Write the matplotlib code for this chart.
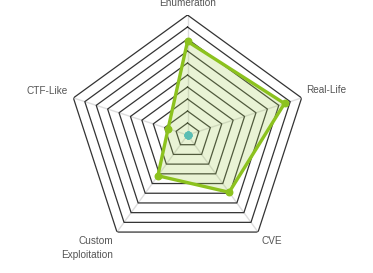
import numpy as np
import matplotlib
matplotlib.use("Agg")
import matplotlib.pyplot as plt

categories = ["Enumeration", "Real-Life", "CVE", "Custom\nExploitation", "CTF-Like"]
scores = [7.8, 8.5, 5.9, 4.2, 1.7]
baseline = [0, 0, 0, 0, 0]
levels = list(range(1, 11))

plt.rcParams['font.family'] = ['Liberation Sans', 'DejaVu Sans']

n = len(categories)
angles = np.linspace(0, 2 * np.pi, n, endpoint=False)
closed = np.append(angles, angles[0])

fig = plt.figure(figsize=(3.73, 2.73), dpi=100)
ax = fig.add_axes([0.181, 0.066, 0.6434, 0.879], projection='polar')
ax.set_theta_offset(np.pi / 2)
ax.set_theta_direction(-1)
ax.set_ylim(0, 10)
ax.axis('off')

# spokes
for a in angles:
    ax.plot([a, a], [0, levels[-1]], color='#dddddd', lw=1, zorder=1)

# pentagon rings
for lv in levels:
    ax.plot(closed, [lv] * (n + 1), color='#333333', lw=0.9, zorder=2)

# data
vals = np.append(scores, scores[0])
ax.fill(closed, vals, color='#a8d05a', alpha=0.25, zorder=3, lw=0)
ax.plot(closed, vals, color='#8cc21e', lw=2.4, zorder=4)
ax.scatter(angles, scores, s=22, color='#8cc21e', zorder=5)
ax.scatter(angles, baseline, s=22, color='#5bbdb3', zorder=5)

# labels
style = dict(fontsize=7.2, color='#555555', annotation_clip=False)
offsets = [
    ((0, 5), 'center', 'bottom'),
    ((3.6, 5.6), 'left', 'center'),
    ((2.2, -3), 'left', 'top'),
    ((-3, -3), 'right', 'top'),
    ((-4.3, 5.2), 'right', 'center'),
]
for a, lab, (off, ha, va) in zip(angles, categories, offsets):
    ax.annotate(lab, xy=(a, levels[-1]), xytext=off, textcoords='offset points',
                ha=ha, va=va, multialignment='right', linespacing=1.5, **style)

fig.savefig('out.png', dpi=100)
